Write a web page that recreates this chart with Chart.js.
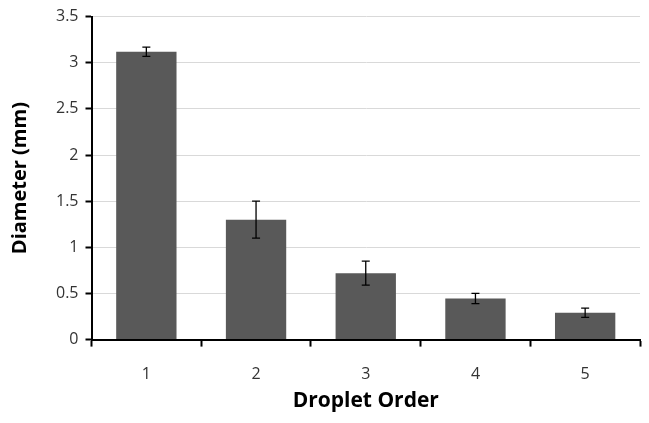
<!DOCTYPE html>
<html lang="en">
<head>
  <meta charset="UTF-8" />
  <title>Droplet Diameter</title>
  <script src="https://cdn.jsdelivr.net/npm/chart.js"></script>
  <style>
    html, body { margin: 0; padding: 0; background: #fff; }
    #wrap { width: 649px; height: 423px; }
  </style>
</head>
<body>
  <div id="wrap"><canvas id="chart"></canvas></div>
  <script>
    const categories = ['1', '2', '3', '4', '5'];
    const diameters = [3.12, 1.30, 0.72, 0.445, 0.29];
    const errors = [0.05, 0.20, 0.13, 0.055, 0.05];
    const yTicks = [0, 0.5, 1, 1.5, 2, 2.5, 3, 3.5];

    // draws the +/- error bars on top of each bar
    const errorBars = {
      id: 'errorBars',
      afterDatasetsDraw(chart) {
        const ctx = chart.ctx;
        const y = chart.scales.y;
        const meta = chart.getDatasetMeta(0);
        ctx.save();
        ctx.strokeStyle = '#000';
        ctx.lineWidth = 1.3;
        meta.data.forEach((bar, i) => {
          const top = y.getPixelForValue(diameters[i] + errors[i]);
          const bot = y.getPixelForValue(diameters[i] - errors[i]);
          ctx.beginPath();
          ctx.moveTo(bar.x, top); ctx.lineTo(bar.x, bot);
          ctx.moveTo(bar.x - 4, top); ctx.lineTo(bar.x + 4, top);
          ctx.moveTo(bar.x - 4, bot); ctx.lineTo(bar.x + 4, bot);
          ctx.stroke();
        });
        ctx.restore();
      }
    };

    const font = "'Open Sans', 'Liberation Sans', sans-serif";

    new Chart(document.getElementById('chart'), {
      type: 'bar',
      data: {
        labels: categories,
        datasets: [{
          data: diameters,
          backgroundColor: '#595959',
          categoryPercentage: 1,
          barPercentage: 0.55
        }]
      },
      options: {
        responsive: true,
        maintainAspectRatio: false,
        animation: false,
        layout: { padding: { top: 5, right: 9, left: 4, bottom: 5 } },
        plugins: { legend: { display: false }, tooltip: { enabled: false } },
        scales: {
          x: {
            offset: true,
            grid: { offset: true, drawOnChartArea: false, tickLength: 7, tickColor: '#000', tickWidth: 2 },
            border: { color: '#000', width: 2 },
            ticks: { color: '#333', font: { family: font, size: 16 }, padding: 18 },
            title: { display: true, text: 'Droplet Order', color: '#000', font: { family: font, size: 21, weight: 'bold' }, padding: { top: -13 } }
          },
          y: {
            min: 0, max: 3.5,
            afterBuildTicks(scale) { scale.ticks = yTicks.map(v => ({ value: v })); },
            grid: { color: '#d9d9d9', tickLength: 6, tickColor: '#000', tickWidth: 2 },
            border: { color: '#000', width: 2 },
            ticks: { color: '#333', font: { family: font, size: 16 }, padding: 7, callback: v => String(v) },
            title: { display: true, text: 'Diameter (mm)', color: '#000', font: { family: font, size: 20, weight: 'bold' }, padding: { bottom: 17 } }
          }
        }
      },
      plugins: [errorBars]
    });
  </script>
</body>
</html>
